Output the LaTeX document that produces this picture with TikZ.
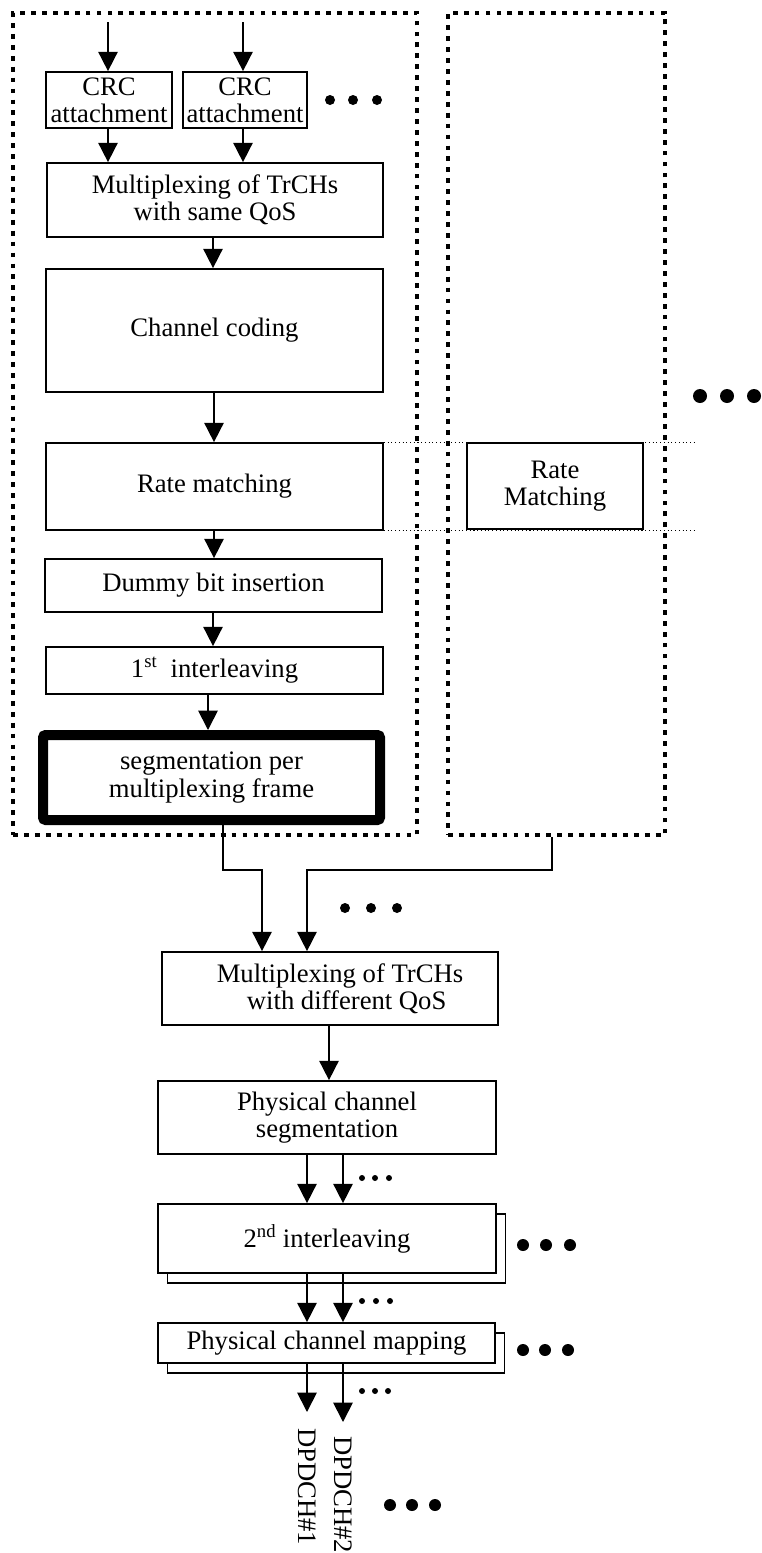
\documentclass[tikz,border=0pt]{standalone}
\usepackage{fontspec}
\setmainfont{Liberation Serif}
\usetikzlibrary{arrows.meta,shadows}
\begin{document}
\begin{tikzpicture}[x=0.75pt,y=-0.75pt,
  sz/.style 2 args={minimum width=#1*0.75pt, minimum height=#2*0.75pt},
  box/.style={draw, line width=1.3pt, fill=white, inner sep=0pt, align=center, font=\fontsize{20}{20.5}\selectfont},
  thickbox/.style={box, line width=7.5pt, rounded corners=2pt},
  stackbox/.style={box, copy shadow={shadow xshift=7.2pt, shadow yshift=-7.5pt}},
  frame/.style={draw, line width=3.6pt, dash pattern=on 3.6pt off 4.6pt, inner sep=0pt},
  arr/.style={line width=1.3pt, -{Triangle[width=14.5pt,length=14.5pt]}},
  guide/.style={line width=0.8pt, dotted},
  lbl/.style={rotate=-90, anchor=west, inner sep=0pt, font=\fontsize{20}{20.5}\selectfont}
]
\useasboundingbox (0,0) rectangle (762,1553);

% left column
\node[box, sz={126}{56}] (crc1) at (109,100) {CRC\\attachment};
\node[box, sz={124}{56}] (crc2) at (245,100) {CRC\\attachment};
\node[box, sz={336}{74}] (mux1) at (215,200) {Multiplexing of TrCHs\\with same QoS};
\node[box, sz={337}{123}] (cc) at (214.5,330.5) {\raisebox{5.25pt}{Channel coding}};
\node[box, sz={337}{87}] (rm) at (214.5,486.5) {Rate matching};
\node[box, sz={337}{53}] (dummy) at (213.5,585.5) {Dummy bit insertion};
\node[box, sz={337}{47}] (il1) at (214.5,670.5) {1\textsuperscript{st}\ \ interleaving};
\node[thickbox, sz={337}{85}] (seg) at (211.5,777.5) {segmentation per\\multiplexing frame};

% guides across rate matching
\draw[guide] (rm.north east) -- (rm.north east -| 695,0);
\draw[guide] (rm.south east) -- (rm.south east -| 695,0);
\node[box, sz={176}{86}] (rm2) at (555,486) {Rate\\Matching};

% frames
\node[frame, sz={404}{822}] (g1) at (215,424) {};
\node[frame, sz={217}{822}] (g2) at (556.5,424) {};

% lower chain
\node[box, sz={336}{73}] (mux2) at (330,988.5) {\hspace*{15pt}Multiplexing of TrCHs\\\hspace*{25pt}with different QoS};
\node[box, sz={338}{73}] (pcs) at (327,1117.5) {Physical channel\\segmentation};
\node[stackbox, sz={338}{69}] (il2) at (327,1238.5) {2\textsuperscript{nd} interleaving};
\node[stackbox, sz={337}{40}] (pcm) at (326.5,1343) {Physical channel mapping};
\node[lbl] (d1) at (307,1428) {DPDCH\#1};
\node[lbl] (d2) at (343,1436) {DPDCH\#2};

% arrows
\coordinate (in1) at (108,22);
\coordinate (in2) at (243,22);
\draw[arr] (in1) -- (in1 |- crc1.north);
\draw[arr] (in2) -- (in2 |- crc2.north);
\draw[arr] (crc1.south -| in1) -- (in1 |- mux1.north);
\draw[arr] (crc2.south -| in2) -- (in2 |- mux1.north);
\draw[arr] (mux1.south -| 213,0) -- (cc.north -| 213,0);
\draw[arr] (cc.south -| 214,0) -- (rm.north -| 214,0);
\draw[arr] (rm.south -| 214,0) -- (dummy.north -| 214,0);
\draw[arr] (dummy.south -| 213,0) -- (il1.north -| 213,0);
\draw[arr] (il1.south -| 208,0) -- (seg.north -| 208,0);
\draw[arr] (seg.south -| 223,0) |- (262,870) -- (mux2.north -| 262,0);
\draw[arr] (g2.south -| 552,0) |- (307,870) -- (mux2.north -| 307,0);
\draw[arr] (mux2.south -| 329,0) -- (pcs.north -| 329,0);
\draw[arr] (pcs.south -| 307,0) -- (il2.north -| 307,0);
\draw[arr] (pcs.south -| 343,0) -- (il2.north -| 343,0);
\draw[arr] (il2.south -| 307,0) -- (pcm.north -| 307,0);
\draw[arr] (il2.south -| 343,0) -- (pcm.north -| 343,0);
\draw[arr] (pcm.south -| 307,0) -- ([yshift=12pt]d1.west);
\draw[arr] (pcm.south -| 343,0) -- ([yshift=10.5pt]d2.west);

% ellipses
\foreach \x in {330,353,377} \fill (\x,100) circle[radius=3.75pt];
\foreach \x in {700,727,754} \fill (\x,396) circle[radius=5.25pt];
\foreach \x in {345,371,397} \fill (\x,908) circle[radius=3.75pt];
\foreach \x in {362,375,389} \fill (\x,1178) circle[radius=2.25pt];
\foreach \x in {523,546,570} \fill (\x,1245) circle[radius=4.5pt];
\foreach \x in {362,376,390} \fill (\x,1301) circle[radius=2.25pt];
\foreach \x in {523,545,568} \fill (\x,1350) circle[radius=4.5pt];
\foreach \x in {362,375,388} \fill (\x,1391) circle[radius=2.25pt];
\foreach \x in {390,412,435} \fill (\x,1505) circle[radius=4.5pt];
\end{tikzpicture}
\end{document}
